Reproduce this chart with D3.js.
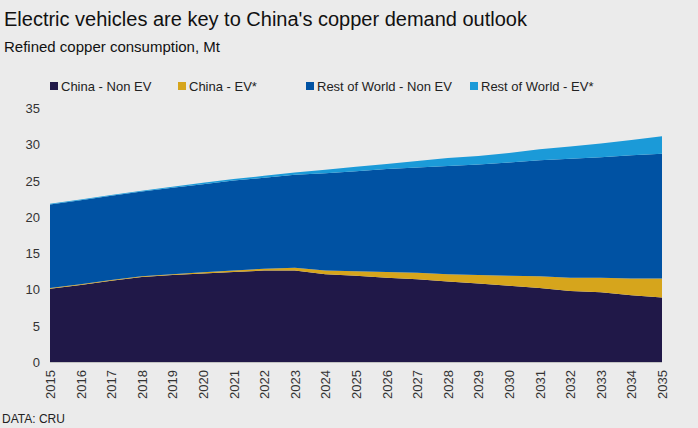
<!DOCTYPE html>
<html><head><meta charset="utf-8">
<script src="https://cdn.jsdelivr.net/npm/d3@7"></script>
<style>
body{margin:0;background:#ebebeb;font-family:"Liberation Sans",Arial,sans-serif;}
</style></head><body>
<svg id="chart" width="698" height="428"></svg>
<script>
var years = d3.range(2015, 2036);
var chinaNonEV = [10.1,10.6,11.2,11.7,12.0,12.2,12.4,12.6,12.6,12.1,11.9,11.6,11.4,11.1,10.8,10.5,10.2,9.8,9.6,9.2,8.9];
var chinaEV    = [0.1,0.1,0.1,0.1,0.1,0.15,0.2,0.25,0.4,0.5,0.6,0.8,0.9,1.0,1.2,1.4,1.6,1.8,2.0,2.3,2.6];
var rowNonEV   = [11.5,11.6,11.6,11.7,11.9,12.15,12.4,12.55,12.8,13.4,13.8,14.2,14.5,14.9,15.2,15.6,16.0,16.4,16.6,17.0,17.2];
var rowEV      = [0.1,0.1,0.1,0.1,0.15,0.2,0.2,0.25,0.3,0.5,0.6,0.7,0.9,1.1,1.2,1.3,1.5,1.7,1.9,2.1,2.4];
var seriesNames = ["China - Non EV","China - EV*","Rest of World - Non EV","Rest of World - EV*"];
var colors = ["#201848","#d6a51c","#0052a3","#1b9ad8"];

var table = years.map(function(y,i){
    return {year:y, "China - Non EV":chinaNonEV[i], "China - EV*":chinaEV[i],
            "Rest of World - Non EV":rowNonEV[i], "Rest of World - EV*":rowEV[i]};
});
var svg = d3.select("#chart");
svg.append("text").attr("x",4).attr("y",26).attr("font-size",20).attr("fill","#111").text("Electric vehicles are key to China's copper demand outlook");
svg.append("text").attr("x",4).attr("y",52).attr("font-size",15).attr("fill","#111").text("Refined copper consumption, Mt");

var x = d3.scaleLinear().domain([2015,2035]).range([50,662]);
var y = d3.scaleLinear().domain([0,35]).range([362,108]);

//gridlines-free axis labels
[0,5,10,15,20,25,30,35].forEach(function(t){
    svg.append("text").attr("x",40).attr("y",y(t)+5).attr("text-anchor","end")
       .attr("font-size",13).attr("fill","#333").text(t);
});
svg.append("line").attr("x1",50).attr("x2",662).attr("y1",y(0)).attr("y2",y(0)).attr("stroke","#999");

var stack = d3.stack().keys(seriesNames)(table);
var area = d3.area().x(function(d){return x(d.data.year);}).y0(function(d){return y(d[0]);}).y1(function(d){return y(d[1]);});
svg.selectAll("path.a").data(stack).enter().append("path")
   .attr("d",area).attr("fill",function(d,i){return colors[i];});

years.forEach(function(yr){
    svg.append("text").attr("transform","translate("+(x(yr)+5)+","+(y(0)+8)+") rotate(-90)")
       .attr("text-anchor","end").attr("font-size",13).attr("fill","#333").text(yr);
});

// legend
var lx = [50,178,306,470];
seriesNames.forEach(function(n,i){
    svg.append("rect").attr("x",lx[i]).attr("y",82).attr("width",8).attr("height",8).attr("fill",colors[i]);
    svg.append("text").attr("x",lx[i]+11).attr("y",91).attr("font-size",13).attr("fill","#222").text(n);
});
svg.append("text").attr("x",2).attr("y",423).attr("font-size",12).attr("fill","#222").text("DATA: CRU");
</script></body></html>
